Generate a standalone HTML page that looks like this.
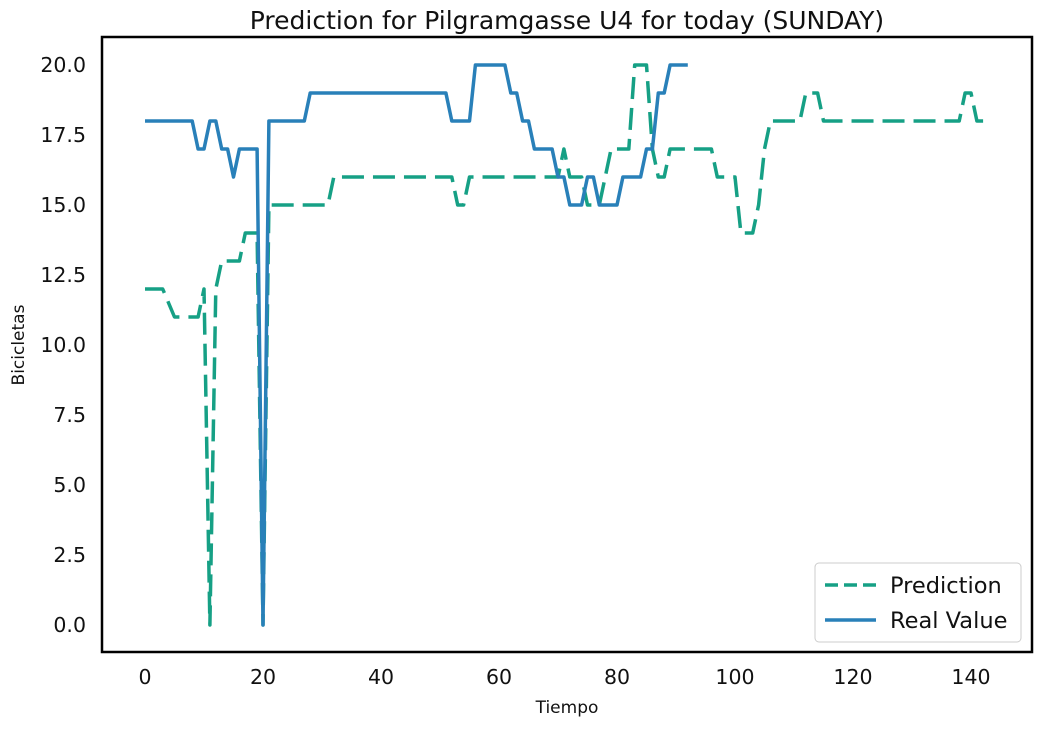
<!DOCTYPE html>
<html><head><meta charset="utf-8"><style>
body{margin:0;background:#fff;}
svg text{font-family:"DejaVu Sans","Liberation Sans",sans-serif;fill:#111;}
</style></head><body>
<svg id="chart" width="1051" height="727" xmlns="http://www.w3.org/2000/svg">
<text x="567" y="29" text-anchor="middle" font-size="25">Prediction for Pilgramgasse U4 for today (SUNDAY)</text>
<rect x="102" y="37" width="930" height="615" fill="none" stroke="#000" stroke-width="2.5"/>
<g id="yticks"></g><g id="xticks"></g>
<g id="series"></g>
<text x="567" y="713" text-anchor="middle" font-size="17">Tiempo</text>
<text transform="translate(24,345) rotate(-90)" text-anchor="middle" font-size="17">Bicicletas</text>
<g>
<rect x="815" y="563" width="206" height="79" rx="4" fill="#fff" stroke="#ccc"/>
<line x1="825" y1="585" x2="876" y2="585" stroke="#16a085" stroke-width="3.5" stroke-dasharray="13,6"/>
<text x="890" y="593" font-size="22.5">Prediction</text>
<line x1="825" y1="620" x2="876" y2="620" stroke="#2980b9" stroke-width="3.5"/>
<text x="890" y="628" font-size="22.5">Real Value</text>
</g>
</svg>
<script>
const realValues=[18,18,18,18,18,18,18,18,18,17,17,18,18,17,17,16,17,17,17,17,0,18,18,18,18,18,18,18,19,19,19,19,19,19,19,19,19,19,19,19,19,19,19,19,19,19,19,19,19,19,19,19,18,18,18,18,20,20,20,20,20,20,19,19,18,18,17,17,17,17,16,16,15,15,15,16,16,15,15,15,15,16,16,16,16,17,17,19,19,20,20,20,20];
const predValues=[12,12,12,12,11.5,11,11,11,11,11,12,0,12,13,13,13,13,14,14,14,0,15,15,15,15,15,15,15,15,15,15,15,16,16,16,16,16,16,16,16,16,16,16,16,16,16,16,16,16,16,16,16,16,15,15,16,16,16,16,16,16,16,16,16,16,16,16,16,16,16,16,17,16,16,16,15,15,15,16,17,17,17,17,20,20,20,17,16,16,17,17,17,17,17,17,17,17,16,16,16,16,14,14,14,15,17,18,18,18,18,18,18,19,19,19,18,18,18,18,18,18,18,18,18,18,18,18,18,18,18,18,18,18,18,18,18,18,18,18,19,19,18,18,18];
const xTicks=[0,20,40,60,80,100,120,140];
const yTicks=[0,2.5,5,7.5,10,12.5,15,17.5,20];
const xs=v=>145+v*(826/140);
const ys=v=>625-v*28;
const NS="http://www.w3.org/2000/svg";
const yt=document.getElementById('yticks');
yTicks.forEach(v=>{const t=document.createElementNS(NS,'text');


t.setAttribute('x',86);t.setAttribute('y',ys(v)+7);t.setAttribute('text-anchor','end');t.setAttribute('font-size','20.5');t.textContent=v.toFixed(1);yt.appendChild(t);});
const xt=document.getElementById('xticks');
xTicks.forEach(v=>{const t=document.createElementNS(NS,'text');


t.setAttribute('x',xs(v));t.setAttribute('y',684);t.setAttribute('text-anchor','middle');t.setAttribute('font-size','20.5');t.textContent=v;xt.appendChild(t);});
const sg=document.getElementById('series');
function line(vals,color,dash,name){const p=document.createElementNS(NS,'polyline');


p.setAttribute('points',vals.map((v,i)=>xs(i)+','+ys(v)).join(' '));
p.setAttribute('fill','none');p.setAttribute('stroke',color);p.setAttribute('stroke-width','3.5');p.setAttribute('stroke-linejoin','round');
if(dash)p.setAttribute('stroke-dasharray',dash);sg.appendChild(p);}
line(predValues,'#16a085','22,9','prediction-line');
line(realValues,'#2980b9',null,'real-value-line');
</script>
</body></html>
